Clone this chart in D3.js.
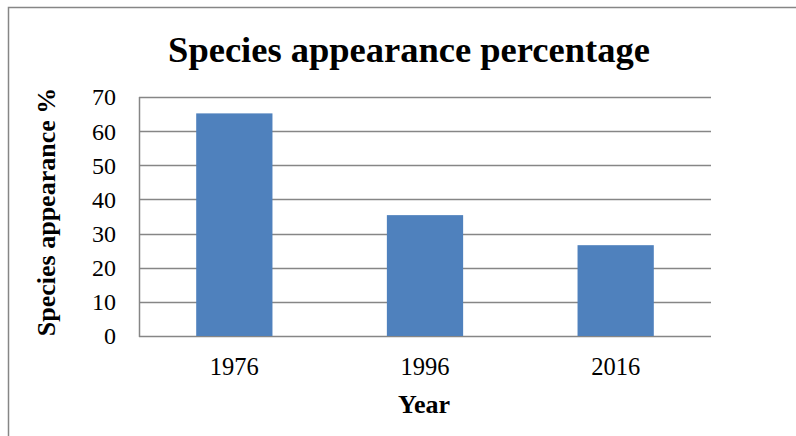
<!DOCTYPE html>
<html>
<head>
<meta charset="utf-8">
<script src="https://cdn.jsdelivr.net/npm/d3@7"></script>
<style>
  html, body { margin: 0; padding: 0; background: #fff; }
  svg { display: block; }
  text { font-family: "Liberation Serif", "Times New Roman", serif; fill: #000; }
</style>
</head>
<body>
<svg id="chart" width="796" height="436"></svg>
<script>
const years = ["1976", "1996", "2016"];
const appearance = [65.2, 35.4, 26.6];
const yTicks = [0, 10, 20, 30, 40, 50, 60, 70];
const titleText = "Species appearance percentage";
const xTitle = "Year";
const yTitle = "Species appearance %";

const svg = d3.select("#chart");
const W = 796, H = 436;
const plot = { left: 139, right: 711, top: 97, bottom: 336 };

// outer chart frame
svg.append("path")
  .attr("d", `M8.5,${H} L8.5,7.5 L${W},7.5`)
  .attr("fill", "none")
  .attr("stroke", "#868686")
  .attr("stroke-width", 1.5);

const x = d3.scaleBand()
  .domain(years)
  .range([plot.left, plot.right])
  .paddingInner(0.6)
  .paddingOuter(0.3);

const y = d3.scaleLinear()
  .domain([0, 70])
  .range([plot.bottom, plot.top]);

// horizontal gridlines
svg.append("g")
  .selectAll("line")
  .data(yTicks)
  .join("line")
  .attr("x1", plot.left)
  .attr("x2", plot.right)
  .attr("y1", d => Math.round(y(d)) + 0.5)
  .attr("y2", d => Math.round(y(d)) + 0.5)
  .attr("stroke", "#868686")
  .attr("stroke-width", 1.5);

// left edge of plot area
svg.append("line")
  .attr("x1", plot.left + 0.5).attr("x2", plot.left + 0.5)
  .attr("y1", plot.top).attr("y2", plot.bottom + 1)
  .attr("stroke", "#868686")
  .attr("stroke-width", 1.5);

// bars
svg.append("g")
  .selectAll("rect")
  .data(years.map((yr, i) => ({ yr, v: appearance[i] })))
  .join("rect")
  .attr("x", d => x(d.yr))
  .attr("width", x.bandwidth())
  .attr("y", d => y(d.v))
  .attr("height", d => y(0) - y(d.v))
  .attr("fill", "#4f81bd");

// y tick labels
svg.append("g")
  .selectAll("text")
  .data(yTicks)
  .join("text")
  .attr("x", 116)
  .attr("y", d => y(d))
  .attr("dy", "0.35em")
  .attr("text-anchor", "end")
  .attr("font-size", 24)
  .text(d => d);

// x tick labels
svg.append("g")
  .selectAll("text")
  .data(years)
  .join("text")
  .attr("x", d => x(d) + x.bandwidth() / 2)
  .attr("y", 375)
  .attr("text-anchor", "middle")
  .attr("font-size", 24.5)
  .text(d => d);

// title
svg.append("text")
  .attr("x", 409)
  .attr("y", 62)
  .attr("text-anchor", "middle")
  .attr("font-size", 36.5)
  .attr("font-weight", "bold")
  .text(titleText);

// x axis title
svg.append("text")
  .attr("x", 424)
  .attr("y", 413)
  .attr("text-anchor", "middle")
  .attr("font-size", 26)
  .attr("font-weight", "bold")
  .text(xTitle);

// y axis title
svg.append("text")
  .attr("transform", `translate(55,212) rotate(-90)`)
  .attr("text-anchor", "middle")
  .attr("font-size", 26)
  .attr("font-weight", "bold")
  .text(yTitle);
</script>
</body>
</html>
